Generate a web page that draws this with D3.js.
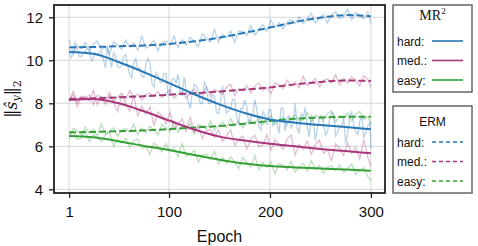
<!DOCTYPE html>
<html>
<head>
<meta charset="utf-8">
<script src="https://cdn.jsdelivr.net/npm/d3@7"></script>
<style>
  body { margin: 0; background: #fff; }
  .axis text { font-family: 'Liberation Sans', Arial, sans-serif; font-size: 15px; fill: #111; }
  .axis path, .axis line { stroke: #222; }
</style>
</head>
<body>
<div id="chart"></div>
<script>
// smoothed curves, read every 25 epochs
const epochs = [1, 25, 50, 75, 100, 125, 150, 175, 200, 225, 250, 275, 300]
const mrHard = [10.38, 10.3, 9.92, 9.45, 8.94, 8.42, 7.95, 7.55, 7.25, 7.1, 6.99, 6.9, 6.79]
const mrMed = [8.15, 8.2, 8.0, 7.63, 7.2, 6.78, 6.45, 6.27, 6.12, 6.0, 5.88, 5.78, 5.68]
const mrEasy = [6.48, 6.42, 6.24, 6.02, 5.83, 5.6, 5.38, 5.2, 5.08, 5.02, 4.97, 4.92, 4.86]
const ermHard = [10.6, 10.62, 10.65, 10.69, 10.76, 10.88, 11.05, 11.28, 11.52, 11.78, 11.98, 12.1, 12.05]
const ermMed = [8.2, 8.23, 8.28, 8.33, 8.4, 8.47, 8.55, 8.64, 8.74, 8.88, 8.99, 9.06, 9.04]
const ermEasy = [6.65, 6.67, 6.7, 6.74, 6.8, 6.87, 6.95, 7.05, 7.18, 7.28, 7.34, 7.37, 7.38]

// raw (noisy) traces, read every 4 epochs
const rawEpochs = [1, 5, 9, 13, 17, 21, 25, 29, 33, 37, 41, 45, 49, 53, 57, 61, 65, 69, 73, 77,
  81, 85, 89, 93, 97, 101, 105, 109, 113, 117, 121, 125, 129, 133, 137, 141, 145, 149, 153, 157,
  161, 165, 169, 173, 177, 181, 185, 189, 193, 197, 201, 205, 209, 213, 217, 221, 225, 229, 233, 237,
  241, 245, 249, 253, 257, 261, 265, 269, 273, 277, 281, 285, 289, 293, 297, 300]
// in-between readings for the hard MR2 trace (the noisiest one)
const midEpochs = [3, 7, 11, 15, 19, 23, 27, 31, 35, 39, 43, 47, 51, 55, 59, 63, 67, 71, 75, 79,
  83, 87, 91, 95, 99, 103, 107, 111, 115, 119, 123, 127, 131, 135, 139, 143, 147, 151, 155, 159,
  163, 167, 171, 175, 179, 183, 187, 191, 195, 199, 203, 207, 211, 215, 219, 223, 227, 231, 235, 239,
  243, 247, 251, 255, 259, 263, 267, 271, 275, 279, 283, 287, 291, 295, 299]

const mrHardRaw = [10.54, 10.29, 10.59, 10.18, 10.41, 10.63, 10.06, 10.24, 10.42, 9.64,
  10.18, 10.36, 9.7, 9.74, 10.27, 9.35, 9.88, 9.56, 9.25, 9.77,
  9.93, 8.77, 9.28, 8.96, 9.36, 8.56, 9.14, 9.35, 8.37, 8.59,
  7.75, 8.87, 8.49, 7.97, 8.8, 7.97, 8.35, 7.52, 8.8, 7.54,
  7.77, 8.16, 7.05, 7.73, 7.83, 7.33, 8.18, 6.93, 7.63, 6.99,
  7.69, 7.22, 6.6, 7.77, 7.3, 6.82, 8.0, 6.63, 7.37, 6.9,
  7.48, 6.26, 7.29, 7.13, 6.66, 7.55, 6.49, 6.92, 7.36, 6.59,
  7.63, 6.71, 7.15, 6.38, 6.96, 5.89]
const mrHardRawMid = [10.13, 10.84, 10.18, 10.33, 10.56, 9.98, 10.35, 10.37, 10.03, 10.69,
  9.67, 10.21, 9.66, 10.18, 9.75, 9.19, 10.08, 9.64, 9.21, 10.09,
  8.93, 9.44, 9.0, 9.4, 8.36, 9.12, 8.94, 8.41, 9.23, 8.09,
  8.46, 8.83, 8.0, 8.98, 8.01, 8.38, 7.56, 8.08, 8.17, 7.65,
  8.19, 7.38, 7.76, 8.15, 7.05, 7.45, 7.7, 6.75, 7.46, 7.71,
  6.93, 7.06, 7.78, 6.71, 7.43, 7.11, 6.79, 7.52, 7.81, 6.44,
  7.17, 6.85, 7.43, 6.52, 7.25, 7.54, 6.63, 6.91, 6.15, 7.33,
  7.02, 6.55, 7.44, 6.67, 7.1]
const ermHardRaw = [10.95, 10.32, 10.68, 10.54, 10.82, 10.41, 10.76, 10.9, 10.49, 10.63,
  10.29, 10.85, 10.72, 10.51, 10.94, 10.6, 10.81, 10.47, 11.11, 10.56,
  10.71, 10.93, 10.45, 10.81, 10.89, 10.69, 11.13, 10.59, 10.96, 10.7,
  11.07, 10.88, 10.63, 11.22, 11.04, 10.85, 11.44, 10.83, 11.22, 11.04,
  11.36, 10.84, 11.36, 11.33, 11.16, 11.62, 11.17, 11.41, 11.66, 11.35,
  11.88, 11.5, 11.75, 11.45, 11.77, 11.88, 11.71, 12.02, 11.7, 11.95,
  12.19, 11.73, 11.97, 12.14, 11.74, 12.1, 12.26, 11.93, 12.02, 12.38,
  11.88, 12.22, 12.07, 11.92, 12.26, 11.7]
const mrMedRaw = [8.15, 8.4, 7.85, 8.26, 8.34, 8.11, 8.6, 7.93, 8.3, 7.94,
  8.37, 8.04, 7.61, 8.36, 8.0, 7.64, 8.38, 7.42, 7.86, 7.5,
  7.83, 6.96, 7.59, 7.42, 7.05, 7.58, 6.82, 7.05, 7.28, 6.71,
  7.35, 6.68, 6.93, 6.37, 6.72, 6.77, 6.42, 6.76, 6.23, 6.5,
  6.77, 6.04, 6.31, 6.48, 5.86, 6.34, 6.51, 5.99, 6.06, 6.54,
  5.82, 6.3, 6.08, 5.86, 6.34, 6.52, 5.6, 6.08, 5.86, 6.24,
  5.62, 6.1, 6.28, 5.67, 5.85, 5.34, 6.12, 5.9, 5.59, 6.17,
  5.66, 5.94, 5.42, 6.31, 5.49, 5.08]
const ermMedRaw = [8.08, 8.56, 8.03, 8.33, 8.16, 8.4, 7.93, 8.36, 8.31, 8.13,
  8.5, 8.09, 8.28, 8.47, 8.17, 8.6, 8.25, 8.44, 8.15, 8.4,
  8.47, 8.3, 8.55, 8.26, 8.45, 8.64, 8.23, 8.43, 8.56, 8.21,
  8.52, 8.65, 8.36, 8.44, 8.75, 8.34, 8.65, 8.55, 8.44, 8.76,
  8.89, 8.36, 8.68, 8.57, 8.83, 8.48, 8.8, 8.94, 8.59, 8.73,
  8.45, 8.95, 8.85, 8.69, 9.08, 8.8, 9.0, 8.72, 9.27, 8.81,
  8.95, 9.15, 8.75, 9.06, 9.13, 8.96, 9.33, 8.86, 9.17, 8.94,
  9.24, 9.05, 8.81, 9.29, 9.1, 8.74]
const mrEasyRaw = [6.55, 6.68, 6.32, 6.38, 6.72, 6.22, 6.56, 6.39, 6.22, 6.54,
  6.65, 6.0, 6.32, 6.14, 6.39, 5.93, 6.25, 6.35, 5.9, 6.0,
  5.62, 6.15, 5.98, 5.74, 6.13, 5.75, 5.92, 5.54, 6.13, 5.53,
  5.64, 5.81, 5.28, 5.6, 5.63, 5.39, 5.77, 5.18, 5.5, 5.19,
  5.51, 5.27, 4.96, 5.49, 5.26, 5.03, 5.57, 4.92, 5.25, 5.02,
  5.29, 4.72, 5.2, 5.12, 4.9, 5.31, 4.81, 5.01, 5.21, 4.85,
  5.34, 4.91, 5.11, 4.75, 5.02, 5.09, 4.87, 5.14, 4.78, 4.98,
  5.18, 4.68, 4.88, 5.01, 4.58, 4.4]
const ermEasyRaw = [6.35, 6.83, 6.72, 6.54, 6.9, 6.61, 6.79, 6.49, 7.04, 6.56,
  6.69, 6.87, 6.46, 6.76, 6.83, 6.66, 7.02, 6.55, 6.86, 6.62,
  6.93, 6.76, 6.53, 7.02, 6.85, 6.68, 7.17, 6.64, 6.96, 6.79,
  7.04, 6.57, 7.0, 6.95, 6.79, 7.16, 6.75, 6.95, 7.14, 6.86,
  7.29, 6.95, 7.15, 6.86, 7.12, 7.2, 7.04, 7.3, 7.02, 7.22,
  7.42, 7.02, 7.22, 7.35, 7.01, 7.32, 7.46, 7.17, 7.24, 7.55,
  7.14, 7.45, 7.34, 7.22, 7.53, 7.65, 7.12, 7.42, 7.31, 7.55,
  7.19, 7.49, 7.62, 7.26, 7.38, 7.02]

const xTicks = [1, 100, 200, 300]
const yTicks = [4, 6, 8, 10, 12]
const levels = ['hard', 'med.', 'easy']

const colors = { hard: '#2878b8', 'med.': '#a8377c', easy: '#35a035' }

function pair(xs, ys) {
  return xs.map((x, i) => ({ epoch: x, value: ys[i] }))
}

const series = [
  { method: 'ERM', level: 'hard', smooth: ermHard, raw: pair(rawEpochs, ermHardRaw) },
  { method: 'ERM', level: 'med.', smooth: ermMed, raw: pair(rawEpochs, ermMedRaw) },
  { method: 'ERM', level: 'easy', smooth: ermEasy, raw: pair(rawEpochs, ermEasyRaw) },
  {
    method: 'MR',
    level: 'hard',
    smooth: mrHard,
    raw: pair(rawEpochs, mrHardRaw)
      .concat(pair(midEpochs, mrHardRawMid))
      .sort((a, b) => a.epoch - b.epoch)
  },
  { method: 'MR', level: 'med.', smooth: mrMed, raw: pair(rawEpochs, mrMedRaw) },
  { method: 'MR', level: 'easy', smooth: mrEasy, raw: pair(rawEpochs, mrEasyRaw) }
]

const margin = { top: 5, left: 54, right: 93, bottom: 53 }
const width = 478 - margin.left - margin.right
const height = 246 - margin.top - margin.bottom

const root = d3
  .select('#chart')
  .append('svg')
  .attr('width', 478)
  .attr('height', 246)

const svg = root
  .append('g')
  .attr('transform', 'translate(' + margin.left + ',' + margin.top + ')')

const xPositionScale = d3.scaleLinear().domain([-14, 314]).range([0, width])
const yPositionScale = d3.scaleLinear().domain([3.83, 12.57]).range([height, 0])

// grid
svg
  .selectAll('.vgrid')
  .data(xTicks)
  .enter()
  .append('line')
  .attr('x1', d => xPositionScale(d))
  .attr('x2', d => xPositionScale(d))
  .attr('y1', 0)
  .attr('y2', height)
  .attr('stroke', '#d6d6d6')
  .attr('stroke-width', 1)

svg
  .selectAll('.hgrid')
  .data(yTicks)
  .enter()
  .append('line')
  .attr('x1', 0)
  .attr('x2', width)
  .attr('y1', d => yPositionScale(d))
  .attr('y2', d => yPositionScale(d))
  .attr('stroke', '#d6d6d6')
  .attr('stroke-width', 1)

root
  .append('defs')
  .append('clipPath')
  .attr('id', 'clip')
  .append('rect')
  .attr('width', width)
  .attr('height', height)

const plot = svg.append('g').attr('clip-path', 'url(#clip)')

const rawLine = d3
  .line()
  .x(d => xPositionScale(d.epoch))
  .y(d => yPositionScale(d.value))

const smoothLine = d3
  .line()
  .x((d, i) => xPositionScale(epochs[i]))
  .y(d => yPositionScale(d))
  .curve(d3.curveMonotoneX)

plot
  .selectAll('.raw-line')
  .data(series)
  .enter()
  .append('path')
  .attr('class', 'raw-line')
  .attr('d', d => rawLine(d.raw))
  .attr('fill', 'none')
  .attr('stroke', d => colors[d.level])
  .attr('stroke-opacity', 0.33)
  .attr('stroke-width', 1.3)

plot
  .selectAll('.smooth-line')
  .data(series)
  .enter()
  .append('path')
  .attr('class', 'smooth-line')
  .attr('d', d => smoothLine(d.smooth))
  .attr('fill', 'none')
  .attr('stroke', d => colors[d.level])
  .attr('stroke-width', 2)
  .attr('stroke-dasharray', d => (d.method === 'ERM' ? '7,3' : null))

// frame
svg
  .append('rect')
  .attr('width', width)
  .attr('height', height)
  .attr('fill', 'none')
  .attr('stroke', '#222')
  .attr('stroke-width', 1.8)

const xAxis = d3
  .axisBottom(xPositionScale)
  .tickValues(xTicks)
  .tickSize(5)
  .tickPadding(8)
svg
  .append('g')
  .attr('class', 'axis x-axis')
  .attr('transform', 'translate(0,' + height + ')')
  .call(xAxis)

const yAxis = d3
  .axisLeft(yPositionScale)
  .tickValues(yTicks)
  .tickSize(5)
  .tickPadding(6)
svg
  .append('g')
  .attr('class', 'axis y-axis')
  .call(yAxis)

svg.selectAll('.axis .domain').remove()
svg.selectAll('.axis line').attr('stroke-width', 1.3)

root
  .append('text')
  .attr('x', margin.left + width / 2)
  .attr('y', 242)
  .attr('text-anchor', 'middle')
  .attr('font-family', "'Liberation Sans', Arial, sans-serif")
  .attr('font-size', 16)
  .attr('fill', '#111')
  .text('Epoch')

// y label: ||s-hat_y||_2
const ylab = root
  .append('text')
  .attr('transform', 'translate(17,99) rotate(-90)')
  .attr('text-anchor', 'middle')
  .attr('font-family', "'DejaVu Serif', serif")
  .attr('font-size', 16)
  .attr('fill', '#111')
ylab.append('tspan').text('\u2016')
ylab.append('tspan').attr('font-style', 'italic').text('\u015D')
ylab
  .append('tspan')
  .attr('font-style', 'italic')
  .attr('font-size', 11)
  .attr('dy', 3)
  .text('y')
ylab.append('tspan').attr('dy', -3).text('\u2016')
ylab
  .append('tspan')
  .attr('font-size', 11)
  .attr('dy', 4)
  .text('2')

// legends
const legends = [
  { method: 'MR', top: 5, bottom: 92, dash: null },
  { method: 'ERM', top: 106, bottom: 193, dash: '4,3' }
]

const legend = root
  .selectAll('.legend')
  .data(legends)
  .enter()
  .append('g')
  .attr('class', 'legend')
  .attr('transform', d => 'translate(393,' + d.top + ')')

legend
  .append('rect')
  .attr('width', 79)
  .attr('height', d => d.bottom - d.top)
  .attr('fill', '#fff')
  .attr('stroke', '#666')
  .attr('stroke-width', 1.5)

legend.each(function(d) {
  const g = d3.select(this)
  if (d.method === 'MR') {
    const t = g
      .append('text')
      .attr('x', 39.5)
      .attr('y', 15)
      .attr('text-anchor', 'middle')
      .attr('font-family', "'Liberation Serif', 'Times New Roman', serif")
      .attr('font-size', 14)
      .attr('fill', '#111')
    t.append('tspan').text('MR')
    t.append('tspan').attr('font-size', 9).attr('dy', -6).text('2')
  } else {
    g.append('text')
      .attr('x', 39.5)
      .attr('y', 20)
      .attr('text-anchor', 'middle')
      .attr('font-family', "'Liberation Sans', Arial, sans-serif")
      .attr('font-size', 12)
      .attr('fill', '#111')
      .text('ERM')
  }

  levels.forEach((level, i) => {
    const yy = 36 + i * 19.5
    g.append('text')
      .attr('x', 4)
      .attr('y', yy + 4.5)
      .attr('font-family', "'Liberation Sans', Arial, sans-serif")
      .attr('font-size', 12)
      .attr('fill', '#111')
      .text(level + ':')
    g.append('line')
      .attr('x1', 39)
      .attr('x2', 70)
      .attr('y1', yy)
      .attr('y2', yy)
      .attr('stroke', colors[level])
      .attr('stroke-width', 1.6)
      .attr('stroke-dasharray', d.dash)
  })
})
</script>
</body>
</html>
